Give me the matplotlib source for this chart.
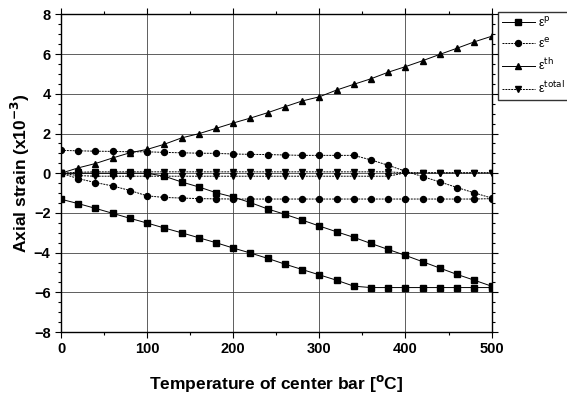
import matplotlib
matplotlib.use('Agg')
import matplotlib.pyplot as plt
from matplotlib.ticker import MultipleLocator

plt.rcParams['font.family'] = ['Liberation Sans', 'DejaVu Sans']
plt.rcParams['mathtext.fontset'] = 'dejavusans'

temp = [0, 20, 40, 60, 80, 100, 120, 140, 160, 180, 200, 220, 240,
        260, 280, 300, 320, 340, 360, 380, 400, 420, 440, 460, 480, 500]

# plastic strain (center / outer bar)
ep_center = [0, 0, 0, 0, 0, 0, -0.15, -0.44, -0.69, -0.98, -1.2, -1.48, -1.8,
             -2.07, -2.36, -2.66, -2.95, -3.23, -3.54, -3.84, -4.14, -4.46, -4.78, -5.1, -5.39, -5.69]
ep_outer = [-1.31, -1.53, -1.77, -2.02, -2.27, -2.51, -2.76, -3.0, -3.25, -3.5, -3.77, -4.02, -4.29,
            -4.58, -4.85, -5.12, -5.39, -5.69, -5.76, -5.76, -5.76, -5.76, -5.76, -5.76, -5.76, -5.76]

# elastic strain
ee_center = [1.15, 1.13, 1.11, 1.10, 1.08, 1.08, 1.05, 1.03, 1.01, 1.00, 0.97, 0.95, 0.94,
             0.92, 0.90, 0.90, 0.90, 0.90, 0.67, 0.40, 0.10, -0.17, -0.44, -0.72, -0.99, -1.25]
ee_outer = [0, -0.27, -0.47, -0.64, -0.87, -1.14, -1.22, -1.25, -1.28, -1.29, -1.30, -1.30, -1.30,
            -1.30, -1.30, -1.30, -1.30, -1.30, -1.30, -1.30, -1.30, -1.30, -1.30, -1.30, -1.30, -1.28]

# thermal strain
eth = [0, 0.27, 0.49, 0.77, 1.03, 1.2, 1.46, 1.78, 1.99, 2.26, 2.53, 2.78, 3.05,
       3.35, 3.64, 3.85, 4.19, 4.48, 4.76, 5.09, 5.37, 5.67, 5.99, 6.30, 6.62, 6.90]

# total strain
etot_a = [0, 0.05, 0.07, 0.07, 0.07, 0.07, 0.07, 0.07, 0.07, 0.07, 0.07, 0.07, 0.07,
          0.07, 0.07, 0.07, 0.07, 0.07, 0.07, 0.07, 0.02, 0.02, 0.02, 0.02, 0.02, 0.02]
etot_b = [0, -0.12, -0.15, -0.15, -0.15, -0.15, -0.15, -0.15, -0.15, -0.15, -0.15, -0.15, -0.15,
          -0.15, -0.15, -0.15, -0.15, -0.15, -0.15, -0.15, 0.02, 0.02, 0.02, 0.02, 0.02, 0.02]

fig = plt.figure(figsize=(5.67, 4.01), dpi=100)
ax = fig.add_axes([0.1076, 0.172, 0.7594, 0.792])

lw = 0.7
ms = 4.3
dot = (0, (2, 1))

l1, = ax.plot(temp, ep_center, 'k-', marker='s', ms=ms, lw=lw, label=r'ε$^{\rm p}$')
ax.plot(temp, ep_outer, 'k-', marker='s', ms=ms, lw=lw)
l2, = ax.plot(temp, ee_center, color='k', ls=dot, marker='o', ms=ms, lw=lw, label=r'ε$^{\rm e}$')
ax.plot(temp, ee_outer, color='k', ls=dot, marker='o', ms=ms, lw=lw)
l3, = ax.plot(temp, eth, 'k-', marker='^', ms=ms, lw=lw, label=r'ε$^{\rm th}$')
l4, = ax.plot(temp, etot_a, color='k', ls=dot, marker='v', ms=ms, lw=lw, label=r'ε$^{\rm total}$')
ax.plot(temp, etot_b, color='k', ls=dot, marker='v', ms=ms, lw=lw)

ax.set_xlim(0, 500)
ax.set_ylim(-8, 8)
ax.xaxis.set_major_locator(MultipleLocator(100))
ax.xaxis.set_minor_locator(MultipleLocator(50))
ax.yaxis.set_major_locator(MultipleLocator(2))
ax.yaxis.set_minor_locator(MultipleLocator(0.5))
ax.grid(True, which='major', color='#444444', lw=0.6)
ax.tick_params(which='both', top=True, right=True, direction='out', labelsize=10.5)
ax.tick_params(which='major', length=4, width=0.8)
ax.tick_params(which='minor', length=2.5, width=0.8)
for lab in ax.get_xticklabels() + ax.get_yticklabels():
    lab.set_fontweight('bold')
for s in ax.spines.values():
    s.set_linewidth(1.0)

ax.set_xlabel(r'Temperature of center bar [$^{\mathbf{o}}$C]', fontsize=12.5,
              fontweight='bold', labelpad=12)
ax.set_ylabel(r'Axial strain (x10$^{\mathbf{-3}}$)', fontsize=12.5,
              fontweight='bold', labelpad=1)

fig.legend(handles=[l1, l2, l3, l4], loc='upper left', bbox_to_anchor=(0.879, 0.97),
           fontsize=9, frameon=True, fancybox=False, edgecolor='k',
           handlelength=2.6, labelspacing=0.55, borderpad=0.3, borderaxespad=0,
           handletextpad=0.3)

plt.savefig('out.png', dpi=100)
